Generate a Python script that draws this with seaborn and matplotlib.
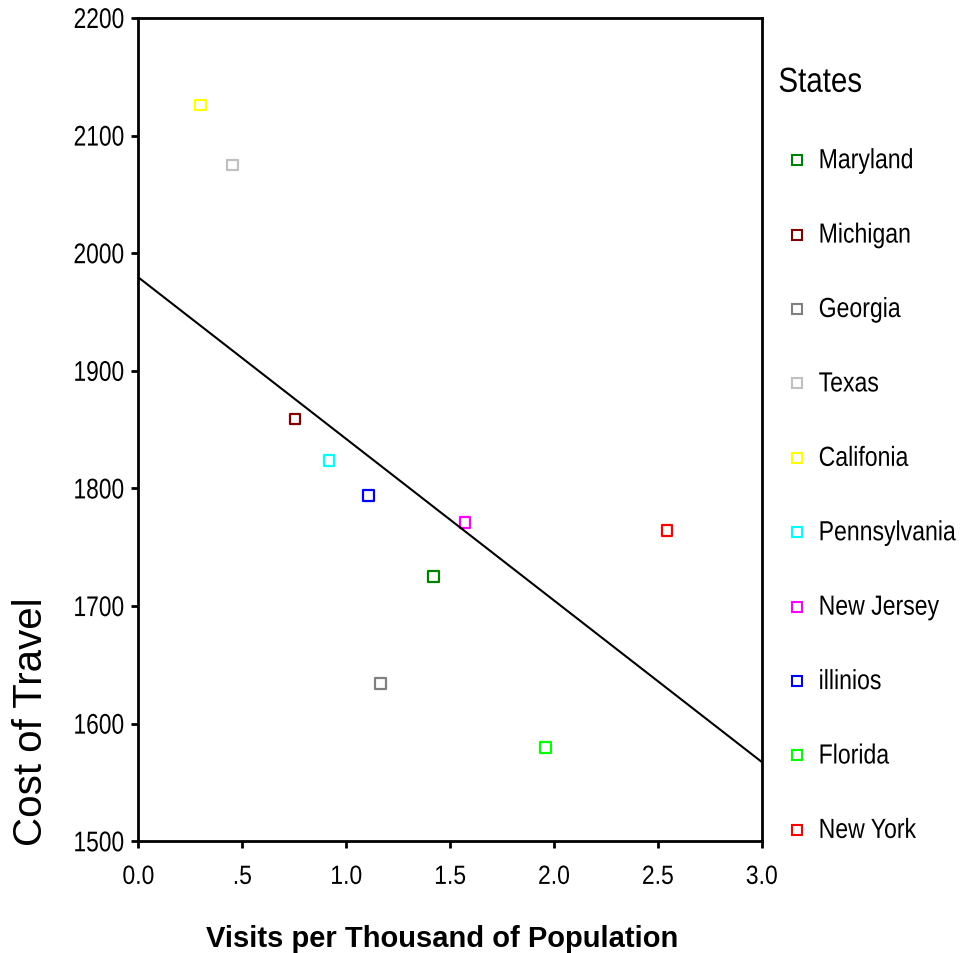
import matplotlib
matplotlib.use('Agg')
import matplotlib.pyplot as plt
import matplotlib.patheffects as pe
from matplotlib.transforms import Affine2D
from matplotlib.lines import Line2D
import seaborn as sns
import pandas as pd

# data
states = ['Maryland', 'Michigan', 'Georgia', 'Texas', 'Califonia',
          'Pennsylvania', 'New Jersey', 'illinios', 'Florida', 'New York']
visits = [1.42, 0.754, 1.165, 0.454, 0.300, 0.918, 1.572, 1.108, 1.961, 2.544]
cost = [1725, 1859, 1634, 2075, 2126, 1824, 1771, 1794, 1580, 1764]
colours = ['#008000', '#800000', '#808080', '#c0c0c0', '#ffff00',
           '#00ffff', '#ff00ff', '#0000ff', '#00ff00', '#ff0000']

# fitted line as drawn in the chart (end points)
line_x = [0.0, 3.0]
line_y = [1979.5, 1567.5]

x_ticks = [0.0, 0.5, 1.0, 1.5, 2.0, 2.5, 3.0]
x_tick_labels = ['0.0', '.5', '1.0', '1.5', '2.0', '2.5', '3.0']
y_ticks = [1500, 1600, 1700, 1800, 1900, 2000, 2100, 2200]

df = pd.DataFrame({'State': states, 'Visits': visits, 'Cost': cost})
palette = dict(zip(states, colours))


# the original uses a narrow Arial-like face; reshape Liberation Sans glyphs
class Narrow(pe.AbstractPathEffect):
    def __init__(self, sx=0.8, anchor='left', sy=1.0):
        super().__init__()
        self.sx = sx
        self.sy = sy
        self.anchor = anchor

    def draw_path(self, renderer, gc, tpath, affine, rgbFace=None):
        ext = tpath.get_extents()
        if self.anchor == 'right':
            x0 = ext.x1
        elif self.anchor == 'center':
            x0 = (ext.x0 + ext.x1) / 2
        else:
            x0 = 0
        t = (Affine2D().translate(-x0, 0).scale(self.sx, self.sy)
             .translate(x0, 0) + affine)
        renderer.draw_path(gc, tpath, t, rgbFace)


sns.set_style('white')
plt.rcParams['font.family'] = ['Liberation Sans', 'DejaVu Sans']
plt.rcParams['text.color'] = 'black'
plt.rcParams['axes.labelcolor'] = 'black'

fig = plt.figure(figsize=(9.61, 9.54), dpi=100)
ax = fig.add_axes([0.1439, 0.1171, 0.6487, 0.863])

sns.lineplot(x=line_x, y=line_y, color='black', linewidth=1.5, ax=ax)
sns.scatterplot(data=df, x='Visits', y='Cost', hue='State', palette=palette,
                marker='s', s=60, linewidth=1.6, legend=False, ax=ax)

# hollow squares: move the hue colour to the edge
for coll in ax.collections:
    fc = coll.get_facecolors()
    coll.set_edgecolors(fc)
    coll.set_facecolors('none')

ax.set_xlim(0, 3.0)
ax.set_ylim(1500, 2200)
ax.set_xticks(x_ticks)
ax.set_xticklabels(x_tick_labels)
ax.set_yticks(y_ticks)

for sp in ax.spines.values():
    sp.set_visible(True)
    sp.set_color('black')
    sp.set_linewidth(2)

ax.tick_params(axis='both', which='major', direction='out', length=5, width=2,
               color='black', labelcolor='black', pad=5)
ax.tick_params(axis='y', labelsize=20.5)
ax.tick_params(axis='x', labelsize=19, pad=12)
ax.tick_params(top=False, right=False, bottom=True, left=True)

for lab in ax.get_xticklabels():
    lab.set_path_effects([Narrow(0.87, 'center')])
for lab in ax.get_yticklabels():
    lab.set_path_effects([Narrow(0.8, 'right')])

ax.set_xlabel('Visits per Thousand of Population', fontsize=21, fontweight='bold',
              va='center')
ax.xaxis.set_label_coords(0.487, -0.1175)
ax.set_ylabel('Cost of Travel', fontsize=29)
ax.yaxis.set_label_coords(-0.142, 0.147)

handles = [Line2D([], [], linestyle='none', marker='s', markersize=6.5,
                  markerfacecolor='none', markeredgecolor=c, markeredgewidth=1.5)
           for c in colours]
leg = fig.legend(handles, states, title='States', loc='upper left',
                 bbox_to_anchor=(0.810, 0.930), frameon=False, fontsize=16.6,
                 title_fontsize=25, alignment='left', handlelength=1.6,
                 handletextpad=0.145, labelspacing=2.23, borderpad=0,
                 borderaxespad=0, labelcolor='black')
leg.get_title().set_color('black')
leg.get_title().set_path_effects([Narrow(0.85, 'left')])
# labels set at the width of the original, stretched up to its letter height
for t in leg.get_texts():
    t.set_path_effects([Narrow(1.0, 'left', sy=1.2)])

fig.savefig('out.png', dpi=100)
